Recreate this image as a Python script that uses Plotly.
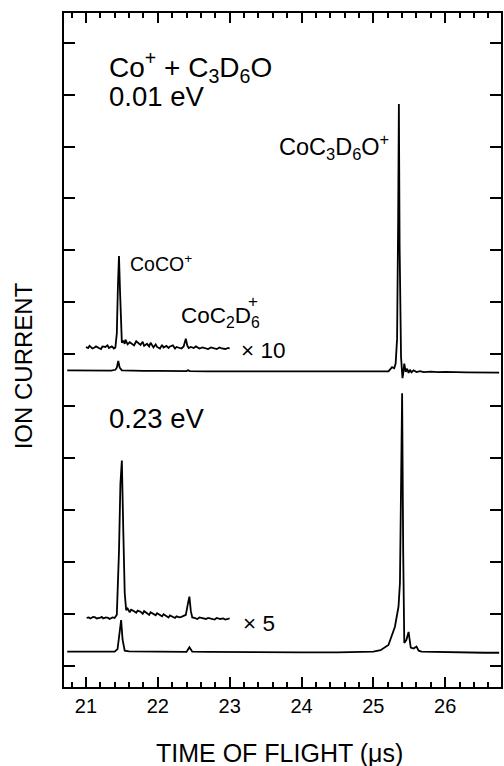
import plotly.graph_objects as go

# ---------------- data ----------------
# y units: one major tick = 1 unit, lowest tick = 0
# 0.01 eV spectrum, full scale
up_x = [20.74, 21.00, 21.20, 21.35, 21.41, 21.43, 21.45, 21.47, 21.50, 21.60, 21.80, 22.00,
        22.20, 22.40, 22.42, 22.45, 22.70, 23.00, 23.50, 24.00, 24.50, 24.74, 24.76, 25.00,
        25.15, 25.21, 25.26, 25.29, 25.31, 25.33, 25.345, 25.355, 25.365, 25.375, 25.385,
        25.395, 25.405, 25.415, 25.43, 25.45, 25.47, 25.49, 25.51, 25.53, 25.56, 25.60,
        25.65, 25.70, 25.80, 25.90, 26.00, 26.30, 26.55, 26.75]
up_y = [5.69, 5.69, 5.685, 5.685, 5.70, 5.74, 5.87, 5.74, 5.69, 5.685, 5.68, 5.68,
        5.675, 5.675, 5.69, 5.675, 5.67, 5.67, 5.665, 5.665, 5.66, 5.66, 5.668, 5.66,
        5.66, 5.67, 5.75, 5.73, 5.82, 6.30, 8.60, 10.82, 8.10, 6.00, 5.95,
        5.74, 5.54, 5.62, 5.82, 5.66, 5.72, 5.64, 5.70, 5.65, 5.69, 5.655,
        5.675, 5.655, 5.665, 5.655, 5.66, 5.65, 5.655, 5.645]

# 0.01 eV spectrum, x10 magnification
up10_x = [21.00, 21.03, 21.05, 21.09, 21.12, 21.14, 21.18, 21.21, 21.23, 21.27, 21.30,
          21.32, 21.36, 21.39, 21.41, 21.43, 21.445, 21.46, 21.475, 21.49, 21.50, 21.52,
          21.54, 21.55, 21.58, 21.61, 21.63, 21.67, 21.70, 21.72, 21.76, 21.79, 21.81,
          21.85, 21.88, 21.90, 21.94, 21.97, 21.99, 22.03, 22.06, 22.08, 22.12, 22.15,
          22.17, 22.21, 22.24, 22.26, 22.30, 22.33, 22.36, 22.38, 22.39, 22.41, 22.43,
          22.46, 22.50, 22.53, 22.58, 22.62, 22.65, 22.70, 22.74, 22.77, 22.82, 22.86,
          22.89, 22.94, 22.98, 23.00]
up10_y = [6.14, 6.12, 6.16, 6.11, 6.13, 6.15, 6.12, 6.10, 6.15, 6.14, 6.17,
          6.12, 6.15, 6.11, 6.13, 6.40, 7.30, 7.89, 7.20, 6.50, 6.22, 6.26,
          6.20, 6.28, 6.19, 6.23, 6.21, 6.17, 6.25, 6.22, 6.18, 6.24, 6.16,
          6.20, 6.15, 6.22, 6.13, 6.19, 6.14, 6.11, 6.18, 6.13, 6.16, 6.12,
          6.15, 6.17, 6.11, 6.14, 6.13, 6.11, 6.15, 6.27, 6.30, 6.17, 6.12,
          6.14, 6.12, 6.15, 6.11, 6.13, 6.12, 6.10, 6.13, 6.12, 6.10, 6.13,
          6.11, 6.10, 6.12, 6.11]

# 0.23 eV spectrum, full scale
lo_x = [20.74, 21.00, 21.20, 21.40, 21.44, 21.47, 21.49, 21.51, 21.54, 21.60, 21.80, 22.00,
        22.20, 22.40, 22.44, 22.48, 22.70, 23.00, 23.50, 24.00, 24.50, 24.80, 25.00, 25.10,
        25.21, 25.30, 25.35, 25.37, 25.385, 25.40, 25.415, 25.43, 25.46, 25.49, 25.52,
        25.56, 25.60, 25.63, 25.67, 25.80, 26.00, 26.30, 26.55, 26.75]
lo_y = [0.27, 0.27, 0.27, 0.27, 0.32, 0.60, 0.88, 0.50, 0.29, 0.275, 0.27, 0.27,
        0.265, 0.265, 0.355, 0.27, 0.265, 0.26, 0.26, 0.255, 0.255, 0.26, 0.27, 0.30,
        0.40, 0.75, 1.14, 1.60, 3.50, 5.25, 2.20, 0.44, 0.50, 0.65, 0.35,
        0.33, 0.37, 0.29, 0.27, 0.265, 0.26, 0.255, 0.25, 0.25]

# 0.23 eV spectrum, x5 magnification
lo5_x = [21.01, 21.04, 21.06, 21.10, 21.13, 21.15, 21.19, 21.22, 21.24, 21.28, 21.31,
         21.33, 21.37, 21.40, 21.43, 21.46, 21.48, 21.50, 21.52, 21.54, 21.56, 21.58,
         21.61, 21.63, 21.67, 21.70, 21.72, 21.76, 21.79, 21.81, 21.85, 21.88, 21.90,
         21.94, 21.97, 21.99, 22.03, 22.06, 22.08, 22.12, 22.15, 22.17, 22.21, 22.24,
         22.26, 22.30, 22.33, 22.36, 22.39, 22.42, 22.44, 22.46, 22.48, 22.51, 22.55,
         22.58, 22.63, 22.67, 22.70, 22.75, 22.79, 22.82, 22.87, 22.91, 22.94, 23.00]
lo5_y = [0.92, 0.93, 0.91, 0.94, 0.93, 0.91, 0.92, 0.94, 0.91, 0.93, 0.92,
         0.90, 0.93, 0.92, 0.98, 2.20, 3.50, 3.95, 2.60, 1.40, 1.07, 1.10,
         1.03, 1.08, 1.05, 1.02, 1.06, 1.04, 1.00, 1.05, 1.01, 0.98, 1.03,
         1.00, 0.97, 1.01, 0.98, 0.95, 0.99, 0.96, 0.93, 0.97, 0.94, 0.92,
         0.95, 0.93, 0.94, 0.96, 0.98, 1.20, 1.33, 1.05, 0.93, 0.92, 0.90,
         0.93, 0.91, 0.90, 0.92, 0.91, 0.89, 0.92, 0.90, 0.91, 0.89, 0.91]

x_ticks = [21, 22, 23, 24, 25, 26]
y_ticks = list(range(13))

FONT = "Liberation Sans, Arial, Helvetica, sans-serif"

fig = go.Figure()
for xs, ys in [(up_x, up_y), (up10_x, up10_y), (lo_x, lo_y), (lo5_x, lo5_y)]:
    fig.add_trace(go.Scatter(x=xs, y=ys, mode="lines",
                             line=dict(color="black", width=1.8),
                             showlegend=False, hoverinfo="skip"))

ann = [
    dict(x=21.29, y=11.54, text="Co<sup>+</sup> + C<sub>3</sub>D<sub>6</sub>O", size=28, xa="left"),
    dict(x=21.29, y=10.96, text="0.01 eV", size=27.5, xa="left"),
    dict(x=21.29, y=4.77, text="0.23 eV", size=27.5, xa="left"),
    dict(x=23.66, y=10.0, text="CoC<sub>3</sub>D<sub>6</sub>O<sup>+</sup>", size=23.5, xa="left"),
    dict(x=21.58, y=7.76, text="CoCO<sup>+</sup>", size=19.5, xa="left"),
    dict(x=22.30, y=6.71, text="CoC<sub>2</sub>D<sub>6</sub>", size=22.5, xa="left"),
    dict(x=23.32, y=7.02, text="+", size=17, xa="center"),
    dict(x=23.13, y=6.08, text="× 10", size=22.5, xa="left"),
    dict(x=23.16, y=0.82, text="× 5", size=22.5, xa="left"),
]
for a in ann:
    fig.add_annotation(x=a["x"], y=a["y"], text=a["text"], showarrow=False,
                       xanchor=a["xa"], yanchor="middle",
                       font=dict(family=FONT, size=a["size"], color="black"))

# axis titles
fig.add_annotation(xref="paper", yref="paper", x=-0.0934, y=0.476, text="ION CURRENT",
                   textangle=-90, showarrow=False, xanchor="center", yanchor="middle",
                   font=dict(family=FONT, size=24, color="black"))
fig.add_annotation(xref="paper", yref="paper", x=0.492, y=-0.0979, text="TIME OF FLIGHT (μs)",
                   showarrow=False, xanchor="center", yanchor="middle",
                   font=dict(family=FONT, size=25, color="black"))

fig.update_xaxes(range=[20.695, 26.776], tickvals=x_ticks, ticks="inside", ticklen=10,
                 tickwidth=2, tickcolor="black", showline=True, linewidth=2, linecolor="black",
                 mirror="allticks", showgrid=False, zeroline=False,
                 minor=dict(dtick=0.2, tick0=21, ticks="inside", ticklen=5, tickwidth=2,
                            tickcolor="black", showgrid=False),
                 tickfont=dict(family=FONT, size=20, color="black"))
fig.update_yaxes(range=[-0.41, 12.572], tickvals=y_ticks, ticks="inside", ticklen=11,
                 tickwidth=2, tickcolor="black", showline=True, linewidth=2, linecolor="black",
                 mirror="allticks", showgrid=False, zeroline=False, showticklabels=False)

fig.update_layout(width=504, height=766, margin=dict(l=64, r=1, t=13, b=79),
                  plot_bgcolor="white", paper_bgcolor="white",
                  font=dict(family=FONT, color="black"))

fig.write_html("out.html", config={"displayModeBar": False},
               post_script="document.body.style.margin='0px';"
                           "document.body.style.overflow='hidden';")
